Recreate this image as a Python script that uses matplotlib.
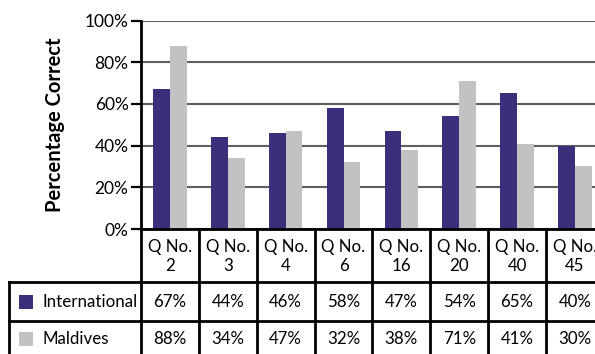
import matplotlib
matplotlib.use("Agg")
from matplotlib import pyplot as plt
from matplotlib.patches import Rectangle
import matplotlib.transforms as mtransforms

questions = ["Q No.\n2", "Q No.\n3", "Q No.\n4", "Q No.\n6",
             "Q No.\n16", "Q No.\n20", "Q No.\n40", "Q No.\n45"]
international = [67, 44, 46, 58, 47, 54, 65, 40]
maldives = [88, 34, 47, 32, 38, 71, 41, 30]
series_names = ["International", "Maldives"]
colors = ["#3b2f7b", "#c0c2c4"]

plt.rcParams['font.family'] = ['Lato', 'DejaVu Sans']

W, H = 595, 354
fig = plt.figure(figsize=(W / 100, H / 100), dpi=100)

# plot area in pixels (extends past the right edge, like the original crop)
left_px, top_px, bottom_px = 141, 20.5, 229
col_px = 57.86
n = len(questions)
ax = fig.add_axes([left_px / W, (H - bottom_px) / H,
                   n * col_px / W, (bottom_px - top_px) / H])

x = list(range(n))
bw = 0.29
ax.bar([i - bw / 2 for i in x], international, bw, color=colors[0], zorder=3)
ax.bar([i + bw / 2 for i in x], maldives, bw, color=colors[1], zorder=3)

ax.set_xlim(-0.5, n - 0.5)
ax.set_ylim(0, 100)
ax.set_yticks(range(0, 101, 20))
ax.set_yticklabels([f"{v}%" for v in range(0, 101, 20)], fontsize=12.5)
ax.set_xticks([])
ax.yaxis.grid(True, color="#5e5e5e", linewidth=1.5, zorder=0)
ax.set_axisbelow(True)
for s in ["top", "right"]:
    ax.spines[s].set_visible(False)
ax.spines["left"].set_linewidth(2)
ax.spines["bottom"].set_linewidth(2)
ax.spines["left"].set_zorder(4)
ax.spines["bottom"].set_zorder(4)
ax.tick_params(axis="y", direction="out", length=7, width=1.6, pad=2)
ax.set_ylabel("Percentage Correct", fontsize=14.5, fontweight="bold", labelpad=14)

# data table under the chart: x in data units, y in inches from the bottom
trans = mtransforms.blended_transform_factory(ax.transData, fig.dpi_scale_trans)
def py(p):
    # pixel row from top -> inches from bottom
    return (H - p) / 100

header_bot, row1_bot, row2_bot = 282, 320.5, 362
label_left = -0.5 - (left_px - 9) / col_px
kw = dict(transform=trans, clip_on=False, color="black", linewidth=2)

# horizontal lines
ax.plot([-0.5, n - 0.5], [py(header_bot)] * 2, **kw)
for yb in [row1_bot, row2_bot]:
    ax.plot([label_left, n - 0.5], [py(yb)] * 2, **kw)
ax.plot([label_left, -0.5], [py(header_bot)] * 2, **kw)
# vertical lines
for i in range(n + 1):
    ax.plot([i - 0.5] * 2, [py(bottom_px), py(row2_bot)], **kw)
ax.plot([label_left] * 2, [py(header_bot), py(row2_bot)], **kw)

fs = 12.2
row1_mid = (header_bot + row1_bot) / 2 + 1
row2_mid = (row1_bot + 354) / 2 + 2
for i, q in enumerate(questions):
    ax.text(i, py((bottom_px + header_bot) / 2 + 1), q, transform=trans,
            ha="center", va="center", fontsize=fs, linespacing=1.3,
            clip_on=False)
    ax.text(i, py(row1_mid), f"{international[i]}%",
            transform=trans, ha="center", va="center", fontsize=fs)
    ax.text(i, py(row2_mid), f"{maldives[i]}%",
            transform=trans, ha="center", va="center", fontsize=fs)

sq = 14 / col_px
for name, c, ymid in zip(series_names, colors, [row1_mid, row2_mid]):
    x0 = label_left + 10 / col_px
    ax.add_patch(Rectangle((x0, py(ymid + 7)), sq, 14 / 100, transform=trans,
                           facecolor=c, edgecolor="none", clip_on=False))
    ax.text(label_left + 34 / col_px, py(ymid), name, transform=trans,
            ha="left", va="center", fontsize=fs)

fig.savefig("out.png", dpi=100)
